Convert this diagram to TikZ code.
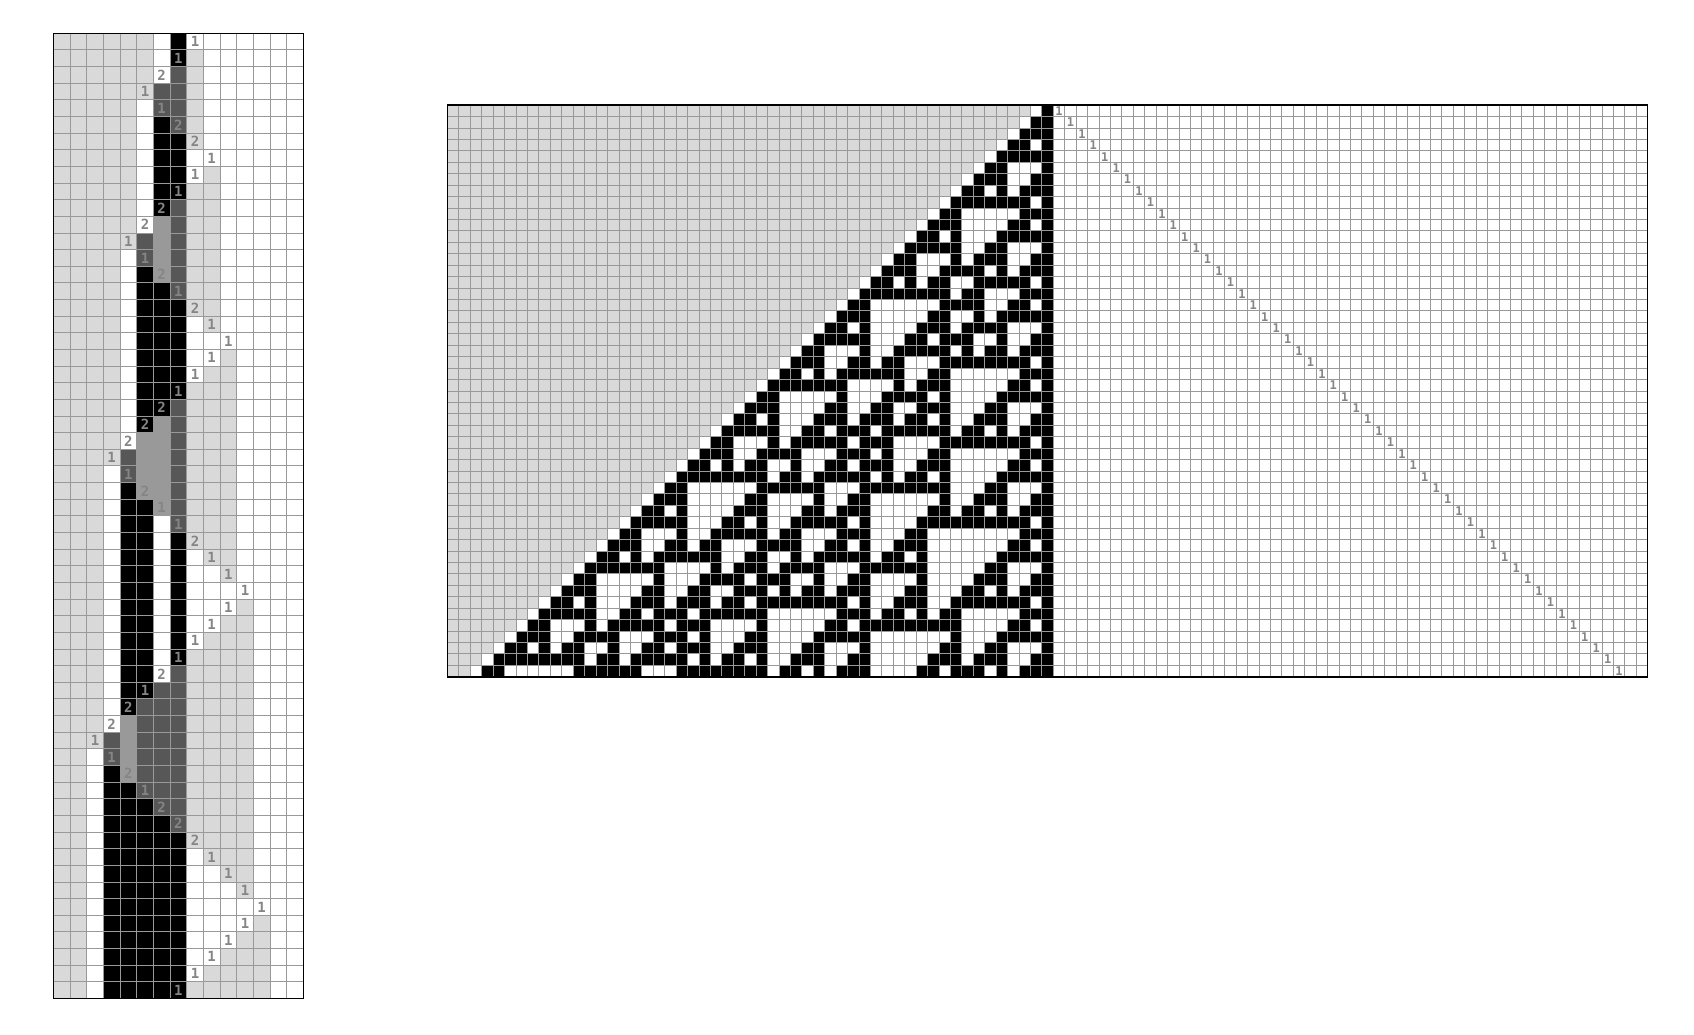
\documentclass[tikz,border=0pt]{standalone}
\usepackage{fontspec}
\usepackage{tikz}
\newfontfamily\cellfont{DejaVu Sans Mono}

\definecolor{tmlight}{gray}{0.85}
\definecolor{tmmid}{gray}{0.6}
\definecolor{tmdark}{gray}{0.34}
\definecolor{labelgray}{gray}{0.52}
\definecolor{gridgray}{gray}{0.6}

% state of a rule 110 cell: row, distance from the right edge
\newcommand{\cellstate}[2]{\ifcsname ca-#1-#2\endcsname\csname ca-#1-#2\endcsname\else0\fi}

% paint one tape row from a string of colour letters
\newcount\tmcol
\newcommand{\tmrow}[2]{\def\tmr{#1}\global\tmcol=0 \tmnext#2\relax}
\def\tmnext#1{%
  \ifx#1\relax\else
    \path[tm#1] (\the\tmcol,\tmr) rectangle ++(1,1);%
    \global\advance\tmcol by 1\relax
    \expandafter\tmnext
  \fi}

\begin{document}
\begin{tikzpicture}[
		x=1pt, y=-1pt,
		tmW/.style={fill=white},
		tmL/.style={fill=tmlight},
		tmM/.style={fill=tmmid},
		tmD/.style={fill=tmdark},
		tmB/.style={fill=black},
		rulecell/.style={fill=black},
		cellgrid/.style={draw=gridgray, line width=0.9pt},
		frame/.style={draw=black, line width=1.6pt},
		headlabel/.style={text=labelgray, inner sep=0pt, font=\cellfont\bfseries\fontsize{14}{14}\selectfont},
		rulehead/.style={text=labelgray, inner sep=0pt, font=\cellfont\bfseries\fontsize{12}{12}\selectfont}
		]
		\useasboundingbox (0,0) rectangle (1694,1034);
		
		% Turing machine run, one row per step
		\begin{scope}[shift={(53.3pt,-33.3pt)}, x=16.67pt, y=-16.64pt]
		\foreach \tape/\hc/\hs [count=\ri from 0] in {
			LLLLLLWBWWWWWWW/8/1, LLLLLLWBLWWWWWW/7/1, LLLLLLWDLWWWWWW/6/2,
			LLLLLLDDLWWWWWW/5/1, LLLLLWDDLWWWWWW/6/1, LLLLLWBDLWWWWWW/7/2,
			LLLLLWBBLWWWWWW/8/2, LLLLLWBBWWWWWWW/9/1, LLLLLWBBWLWWWWW/8/1,
			LLLLLWBBLLWWWWW/7/1, LLLLLWBDLLWWWWW/6/2, LLLLLWMDLLWWWWW/5/2,
			LLLLLDMDLLWWWWW/4/1, LLLLWDMDLLWWWWW/5/1, LLLLWBMDLLWWWWW/6/2,
			LLLLWBBDLLWWWWW/7/1, LLLLWBBBLLWWWWW/8/2, LLLLWBBBWLWWWWW/9/1,
			LLLLWBBBWWWWWWW/10/1, LLLLWBBBWWLWWWW/9/1, LLLLWBBBWLLWWWW/8/1,
			LLLLWBBBLLLWWWW/7/1, LLLLWBBDLLLWWWW/6/2, LLLLWBMDLLLWWWW/5/2,
			LLLLWMMDLLLWWWW/4/2, LLLLDMMDLLLWWWW/3/1, LLLWDMMDLLLWWWW/4/1,
			LLLWBMMDLLLWWWW/5/2, LLLWBBMDLLLWWWW/6/1, LLLWBBWDLLLWWWW/7/1,
			LLLWBBWBLLLWWWW/8/2, LLLWBBWBWLLWWWW/9/1, LLLWBBWBWWLWWWW/10/1,
			LLLWBBWBWWWWWWW/11/1, LLLWBBWBWWWLWWW/10/1, LLLWBBWBWWLLWWW/9/1,
			LLLWBBWBWLLLWWW/8/1, LLLWBBWBLLLLWWW/7/1, LLLWBBWDLLLLWWW/6/2,
			LLLWBBDDLLLLWWW/5/1, LLLWBDDDLLLLWWW/4/2, LLLWMDDDLLLLWWW/3/2,
			LLLDMDDDLLLLWWW/2/1, LLWDMDDDLLLLWWW/3/1, LLWBMDDDLLLLWWW/4/2,
			LLWBBDDDLLLLWWW/5/1, LLWBBBDDLLLLWWW/6/2, LLWBBBBDLLLLWWW/7/2,
			LLWBBBBBLLLLWWW/8/2, LLWBBBBBWLLLWWW/9/1, LLWBBBBBWWLLWWW/10/1,
			LLWBBBBBWWWLWWW/11/1, LLWBBBBBWWWWWWW/12/1, LLWBBBBBWWWWLWW/11/1,
			LLWBBBBBWWWLLWW/10/1, LLWBBBBBWWLLLWW/9/1, LLWBBBBBWLLLLWW/8/1,
			LLWBBBBBLLLLLWW/7/1}
		{
			\edef\next{\noexpand\tmrow{\ri}{\tape}}\next
			\node[headlabel] (h\ri) at ({\hc+0.5},{\ri+0.5}) {\hs};
		}
		\foreach \ci in {1,...,14} \draw[cellgrid] (\ci,0) -- (\ci,58);
		\foreach \ri in {1,...,57} \draw[cellgrid] (0,\ri) -- (15,\ri);
		\draw[frame] (0,0) rectangle (15,58);
		\end{scope}
		
		% Rule 110 from one black cell
		\expandafter\gdef\csname ca-0-0\endcsname{1}
		\foreach \ri in {1,...,49}{
			\pgfmathtruncatemacro\rp{\ri-1}
			\foreach \ki in {0,...,\ri}{
				\pgfmathtruncatemacro\kl{\ki+1}
				\pgfmathtruncatemacro\kr{\ki-1}
				\edef\nbl{\cellstate{\rp}{\kl}}%
				\edef\nbc{\cellstate{\rp}{\ki}}%
				\edef\nbr{\cellstate{\rp}{\kr}}%
				\ifnum\numexpr\nbc+\nbr\relax>0
					\ifnum\numexpr\nbl+\nbc+\nbr\relax<3
						\expandafter\xdef\csname ca-\ri-\ki\endcsname{1}%
					\fi
				\fi
			}
		}
		
		\begin{scope}[shift={(447.5pt,-105.2pt)}, x=11.43pt, y=-11.43pt]
		% not yet reached
		\foreach \ri in {0,...,49} \fill[tmL] (0,\ri) rectangle ({51-\ri},{\ri+1});
		\foreach \ri in {0,...,49}{
			\foreach \ki in {0,...,\ri}{
				\ifnum\cellstate{\ri}{\ki}=1
					\fill[rulecell] ({52-\ki},\ri) rectangle ++(1,1);
				\fi
			}
		}
		\foreach \ci in {1,...,104} \draw[cellgrid] (\ci,0) -- (\ci,50);
		\foreach \ri in {1,...,49} \draw[cellgrid] (0,\ri) -- (105,\ri);
		\draw[frame] (0,0) rectangle (105,50);
		% head running right
		\foreach \ri in {0,...,49} \node[rulehead] (rh\ri) at ({53.5+\ri},{\ri+0.5}) {1};
		\end{scope}
		
	\end{tikzpicture}
\end{document}
